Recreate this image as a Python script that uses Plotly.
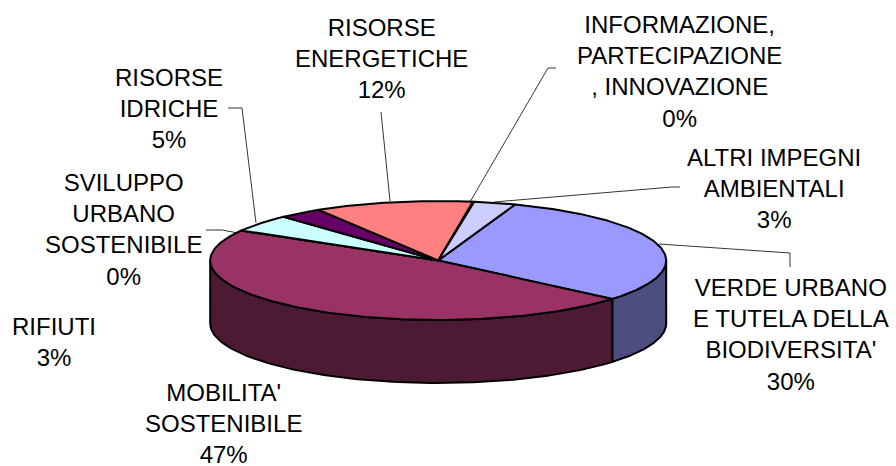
import numpy as np
import plotly.graph_objects as go

# Data, clockwise from the top
categories = ["VERDE URBANO<br>E TUTELA DELLA<br>BIODIVERSITA'", "MOBILITA'<br>SOSTENIBILE",
              "SVILUPPO<br>URBANO<br>SOSTENIBILE", "RISORSE<br>IDRICHE", "RIFIUTI",
              "RISORSE<br>ENERGETICHE", "INFORMAZIONE,<br>PARTECIPAZIONE<br>, INNOVAZIONE",
              "ALTRI IMPEGNI<br>AMBIENTALI"]
values = [30.7, 47.2, 0.05, 4.7, 3.1, 11.2, 0.05, 3.0]
percent_labels = ["30%", "47%", "0%", "5%", "3%", "12%", "0%", "3%"]
top_colors = ["#9999FF", "#993366", "#FFFFCC", "#CCFFFF", "#660066", "#FF8080", "#0066CC", "#CCCCFF"]
side_colors = ["#4D4D80", "#4D1A33", "#808066", "#668080", "#330033", "#804040", "#003366", "#666680"]

# Layout of the drawing (pixels)
W, H = 896, 466
CX, CY, RX, RY, DEPTH = 438.2, 260.5, 228, 59.5, 63
START_DEG = 70.3
label_pos = [(791, 334), (223, 423), (123, 229), (169, 108), (54, 342), (381, 58), (679, 71.5), (774, 188)]
leaders = [
    [(659, 244), (790, 253), (790, 267)],
    None,
    [(206, 230), (222, 230), (238, 233)],
    [(228, 108), (242, 108), (256, 223)],
    None,
    [(381, 112), (381, 112), (390, 201)],
    [(556, 68), (548, 68), (470, 202)],
    [(680, 187), (672, 187), (494, 202)],
]

def ell(t_deg, dy=0.0):
    t = np.radians(t_deg)
    return CX + RX * np.cos(t), CY - RY * np.sin(t) + dy

fig = go.Figure()
edges = START_DEG - np.cumsum([0] + values) * 3.6

def add_poly(x, y, color):
    fig.add_trace(go.Scatter(x=x, y=y, mode="lines", fill="toself", fillcolor=color,
                             line=dict(color="black", width=2), hoverinfo="skip", showlegend=False))

# side walls (visible front half only)
for i in range(len(values)):
    a, b = edges[i], edges[i + 1]
    lo = max(b, -180)
    hi = min(a, 0)
    if hi <= lo:
        continue
    ts = np.linspace(hi, lo, 120)
    x1, y1 = ell(ts)
    x2, y2 = ell(ts[::-1], DEPTH)
    add_poly(np.r_[x1, x2, x1[0]], np.r_[y1, y2, y1[0]], side_colors[i])

# top face
for i in range(len(values)):
    ts = np.linspace(edges[i], edges[i + 1], 160)
    x, y = ell(ts)
    add_poly(np.r_[CX, x, CX], np.r_[CY, y, CY], top_colors[i])

# leader lines
for pts in leaders:
    if pts:
        fig.add_trace(go.Scatter(x=[p[0] for p in pts], y=[p[1] for p in pts], mode="lines",
                                 line=dict(color="black", width=0.8), hoverinfo="skip", showlegend=False))

for cat, pct, (x, y) in zip(categories, percent_labels, label_pos):
    fig.add_annotation(x=x, y=y, text=f"{cat}<br>{pct}", showarrow=False, xanchor="center", yanchor="middle",
                       font=dict(family="Liberation Sans", size=24, color="black"), align="center")

fig.update_xaxes(range=[0, W], visible=False, fixedrange=True)
fig.update_yaxes(range=[H, 0], visible=False, fixedrange=True)
fig.update_layout(width=W, height=H, margin=dict(l=0, r=0, t=0, b=0),
                  paper_bgcolor="white", plot_bgcolor="white", showlegend=False)
fig.write_html("out.html", config={"displayModeBar": False},
               post_script="document.body.style.margin='0';document.documentElement.style.overflow='hidden';")
